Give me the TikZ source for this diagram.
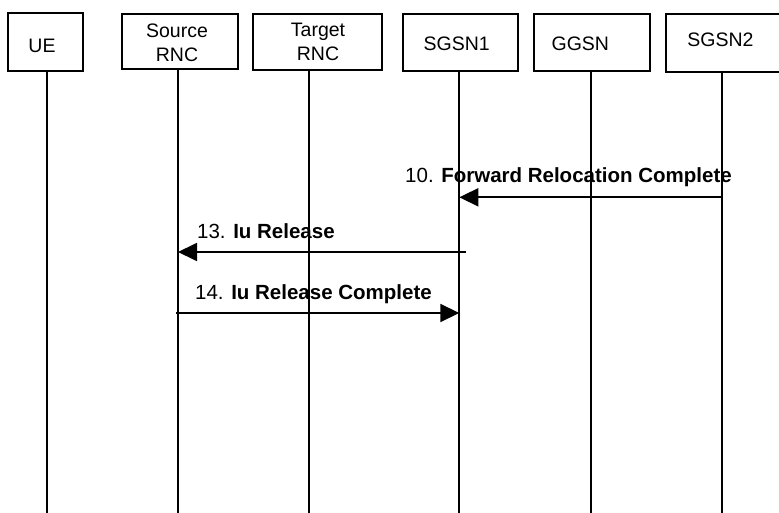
\documentclass[tikz,border=0pt]{standalone}
\usepackage{fontspec}
\setmainfont{Liberation Sans}
\usetikzlibrary{arrows.meta}
\begin{document}
\begin{tikzpicture}[x=1pt,y=-1pt,
  ent/.style={draw,line width=1.8pt,inner sep=0pt},
  lbl/.style={inner sep=0pt,font=\fontsize{19.5}{24}\selectfont,align=center},
  msg/.style={inner sep=0pt,anchor=base west,font=\fontsize{20.5}{24}\selectfont},
  life/.style={line width=1.8pt},
  arr/.style={line width=1.8pt,-{Triangle[length=19pt,width=18pt]}}]
\useasboundingbox (0,0) rectangle (779,513);
% entity boxes
\node[ent,minimum width=75pt,minimum height=57.4pt] (ue) at (45.8,42) {};
\node[ent,minimum width=116.6pt,minimum height=55pt] (src) at (180,41.8) {};
\node[ent,minimum width=128.4pt,minimum height=55.7pt] (tgt) at (317.5,42.2) {};
\node[ent,minimum width=115pt,minimum height=56.7pt] (sg1) at (460.8,42.3) {};
\node[ent,minimum width=115.7pt,minimum height=56.7pt] (ggsn) at (592.2,42.3) {};
\node[ent,minimum width=115pt,minimum height=57.7pt] (sg2) at (723.5,42.9) {};
% entity texts
\node[lbl,anchor=base] (tue) at (42,53) {UE};
\node[lbl,anchor=north] (tsrc) at (177,23.3) {Source\\RNC};
\node[lbl,anchor=north] (ttgt) at (318,23.3) {Target\\RNC};
\node[lbl,anchor=base] (tsg1) at (456.7,50.7) {SGSN1};
\node[lbl,anchor=base] (tggsn) at (580.3,50.7) {GGSN};
\node[lbl,anchor=base] (tsg2) at (720.5,46.7) {SGSN2};
% lifelines
\coordinate (uet) at (47.3,70.7);   \coordinate (ueb) at (47.3,514);
\coordinate (srct) at (178,69.3);   \coordinate (srcb) at (178,514);
\coordinate (tgtt) at (309,70);     \coordinate (tgtb) at (309,514);
\coordinate (sg1t) at (459.3,70.7); \coordinate (sg1b) at (459.3,514);
\coordinate (ggt) at (590.7,70.7);  \coordinate (ggb) at (590.7,514);
\coordinate (sg2t) at (721.7,71.7); \coordinate (sg2b) at (721.7,514);
\draw[life] (uet) -- (ueb);
\draw[life] (srct) -- (srcb);
\draw[life] (tgtt) -- (tgtb);
\draw[life] (sg1t) -- (sg1b);
\draw[life] (ggt) -- (ggb);
\draw[life] (sg2t) -- (sg2b);
% messages
\coordinate (m10s) at (722,197.3);  \coordinate (m10e) at (459.3,197.3);
\coordinate (m13s) at (466,252);    \coordinate (m13e) at (178,252);
\coordinate (m14s) at (176,313);    \coordinate (m14e) at (459.3,313);
\draw[arr] (m10s) -- (m10e);
\draw[arr] (m13s) -- (m13e);
\draw[arr] (m14s) -- (m14e);
\node[msg] (l10) at (405,183) {10. \textbf{Forward Relocation Complete}};
\node[msg] (l13) at (197,238) {13. \textbf{Iu Release}};
\node[msg] (l14) at (195,299) {14. \textbf{Iu Release Complete}};
\end{tikzpicture}
\end{document}
